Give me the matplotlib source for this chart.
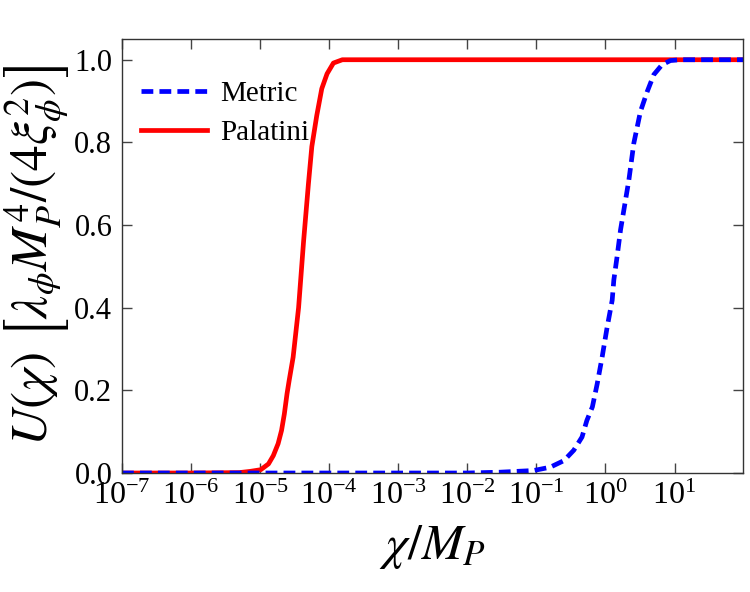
import matplotlib
matplotlib.use("Agg")
import matplotlib.pyplot as plt
from matplotlib.ticker import LogLocator, NullLocator, FixedLocator, FormatStrFormatter

plt.rcParams['font.family'] = ['Liberation Serif', 'DejaVu Serif']
plt.rcParams['mathtext.fontset'] = 'stix'

# Palatini (red, solid)
pal_x = [1e-7, 1e-6, 5e-6, 7.2e-6, 1.02e-5, 1.32e-5, 1.55e-5, 1.82e-5, 2.04e-5,
         2.24e-5, 2.45e-5, 2.63e-5, 3.0e-5, 3.6e-5, 4.25e-5, 5.0e-5, 5.6e-5,
         6.6e-5, 7.8e-5, 9.3e-5, 1.15e-4, 1.55e-4, 1e-3, 1e2]
pal_y = [0.0, 0.0, 0.001, 0.004, 0.008, 0.022, 0.042, 0.071, 0.103,
         0.143, 0.192, 0.224, 0.28, 0.40, 0.56, 0.70, 0.79,
         0.865, 0.93, 0.966, 0.992, 1.0, 1.0, 1.0]

# Metric (blue, dashed)
met_x = [1e-7, 1e-2, 3.0e-2, 9.1e-2, 1.58e-1, 2.5e-1, 3.47e-1, 4.57e-1, 5.37e-1,
         6.46e-1, 7.59e-1, 0.895, 1.057, 1.25, 1.32, 1.47, 1.65, 2.18, 2.57,
         3.21, 4.02, 5.01, 6.6, 8.7, 12.0, 1e2]
met_y = [0.0, 0.0, 0.002, 0.006, 0.014, 0.03, 0.055, 0.087, 0.127,
         0.16, 0.216, 0.281, 0.353, 0.418, 0.467, 0.523, 0.588, 0.709, 0.798,
         0.875, 0.923, 0.964, 0.988, 0.998, 1.0, 1.0]

y_ticks = [0.0, 0.2, 0.4, 0.6, 0.8, 1.0]

fig = plt.figure(figsize=(7.5, 5.92), dpi=100)
ax = fig.add_axes([0.1627, 0.201, 0.828, 0.733])

lp, = ax.plot(pal_x, pal_y, color='#ff0000', lw=3.4, label='Palatini')
lm, = ax.plot(met_x, met_y, color='#0000ff', lw=3.4, ls=(0, (2.5, 1.3)), label='Metric')

ax.set_xscale('log')
ax.set_xlim(1e-7, 9.8e1)
ax.set_ylim(0.0, 1.05)
ax.xaxis.set_major_locator(LogLocator(base=10, numticks=20))
ax.xaxis.set_minor_locator(NullLocator())
ax.yaxis.set_major_locator(FixedLocator(y_ticks))
ax.yaxis.set_major_formatter(FormatStrFormatter('%.1f'))

ax.tick_params(axis='both', which='major', direction='in', top=True, right=True,
               length=7, width=1, color='#444444', labelsize=22, pad=7)
ax.tick_params(axis='x', labelsize=23, pad=6)
for s in ax.spines.values():
    s.set_color('#333333')
    s.set_linewidth(1.0)

ax.set_xlabel(r'$\chi/M_P$', fontsize=36, labelpad=9)
ax.set_ylabel(r'$U(\chi)\ \left[\lambda_\phi M_P^4/(4\xi_\phi^2)\right]$', fontsize=37, labelpad=2)

leg = ax.legend(handles=[lm, lp], loc='upper left', frameon=False, fontsize=21,
                handlelength=2.25, bbox_to_anchor=(0.0, 0.947), borderaxespad=0.25,
                borderpad=0.4, handletextpad=0.45, labelspacing=0.42)

fig.savefig('out.png', dpi=100)
